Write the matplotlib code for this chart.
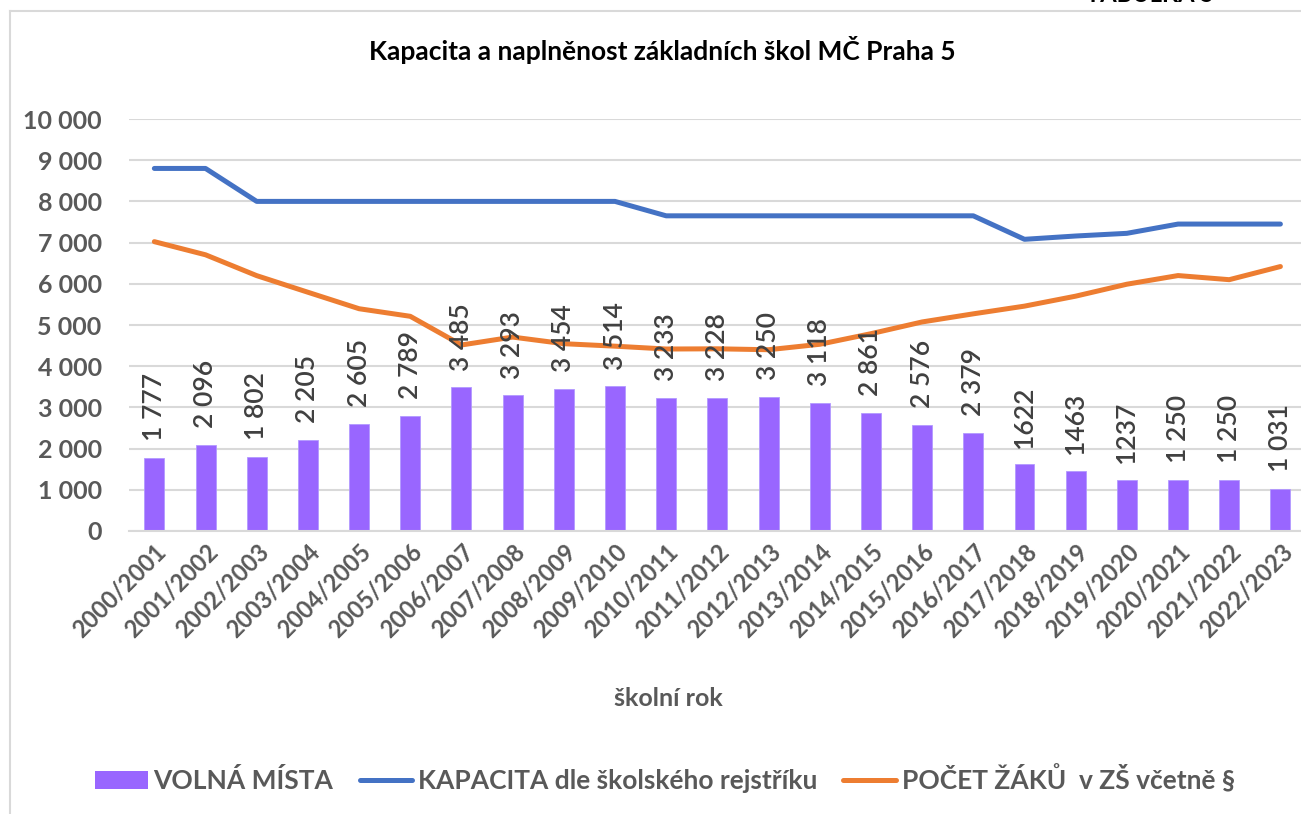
import matplotlib
matplotlib.use("Agg")
import matplotlib.pyplot as plt
from matplotlib.patches import Patch
from matplotlib.lines import Line2D
import numpy as np

plt.rcParams['font.family'] = ['Lato', 'DejaVu Sans']

years = ["2000/2001", "2001/2002", "2002/2003", "2003/2004", "2004/2005", "2005/2006",
         "2006/2007", "2007/2008", "2008/2009", "2009/2010", "2010/2011", "2011/2012",
         "2012/2013", "2013/2014", "2014/2015", "2015/2016", "2016/2017", "2017/2018",
         "2018/2019", "2019/2020", "2020/2021", "2021/2022", "2022/2023"]
volna_mista = [1777, 2096, 1802, 2205, 2605, 2789, 3485, 3293, 3454, 3514, 3233, 3228,
               3250, 3118, 2861, 2576, 2379, 1622, 1463, 1237, 1250, 1250, 1031]
volna_labels = ["1 777", "2 096", "1 802", "2 205", "2 605", "2 789", "3 485", "3 293",
                "3 454", "3 514", "3 233", "3 228", "3 250", "3 118", "2 861", "2 576",
                "2 379", "1622", "1463", "1237", "1 250", "1 250", "1 031"]
kapacita = [8800, 8800, 8000, 8000, 8000, 8000, 8000, 8000, 8000, 8000, 7650, 7650,
            7650, 7650, 7650, 7650, 7650, 7080, 7160, 7225, 7450, 7450, 7450]
pocet_zaku = [7023, 6704, 6198, 5795, 5395, 5211, 4515, 4707, 4546, 4486, 4417, 4422,
              4400, 4532, 4789, 5074, 5271, 5458, 5700, 5990, 6200, 6100, 6419]
yticks = [0, 1000, 2000, 3000, 4000, 5000, 6000, 7000, 8000, 9000, 10000]
ytick_labels = ["0", "1 000", "2 000", "3 000", "4 000", "5 000", "6 000", "7 000",
                "8 000", "9 000", "10 000"]

W, H = 1301, 814
fig = plt.figure(figsize=(W / 100, H / 100), dpi=100)

purple = '#9966FF'
blue = '#4472C4'
orange = '#ED7D31'
grey_txt = '#595959'
grid_c = '#D9D9D9'

# axes: x from 128.75 to 1306 px, y from 119 to 531 px
left, right, top, bottom = 128.75, 1306, 119, 531
ax = fig.add_axes([left / W, 1 - bottom / H, (right - left) / W, (bottom - top) / H])

x = np.arange(len(years))
ax.bar(x, volna_mista, width=0.39, color=purple, edgecolor='#B399FF', linewidth=0.6, zorder=2)
ax.plot(x, kapacita, color=blue, lw=3.6, solid_capstyle='round', solid_joinstyle='round', zorder=3)
ax.plot(x, pocet_zaku, color=orange, lw=3.6, solid_capstyle='round', solid_joinstyle='round', zorder=3)

for xi, v, lab in zip(x, volna_mista, volna_labels):
    ax.annotate(lab, (xi, v), xytext=(0, 12), textcoords='offset points',
                rotation=90, ha='center', va='bottom', fontsize=19,
                fontweight='semibold', color='#404040', zorder=4)

ax.set_xlim(-0.5, len(years) - 0.5)
ax.set_ylim(0, 10000)
ax.set_yticks(yticks)
ax.set_yticklabels(ytick_labels, fontsize=18, fontweight='bold', color=grey_txt)
ax.set_xticks(x)
ax.set_xticklabels(years, rotation=45, ha='right', rotation_mode='anchor',
                   fontsize=17, fontweight='bold', color=grey_txt)
ax.tick_params(axis='both', length=0)
ax.tick_params(axis='y', pad=19.5)
ax.tick_params(axis='x', pad=6)
ax.grid(axis='y', color=grid_c, lw=1.5, zorder=0)
ax.set_axisbelow(True)
for s in ['top', 'right', 'left']:
    ax.spines[s].set_visible(False)
ax.spines['bottom'].set_color(grid_c)
ax.spines['bottom'].set_linewidth(1.5)

# title and axis title
fig.text(662 / W, 1 - 50 / H, "Kapacita a naplněnost základních škol MČ Praha 5",
         ha='center', va='center', fontsize=19, fontweight='bold', color='black')
fig.text(668 / W, 1 - 698 / H, "školní rok", ha='center', va='center',
         fontsize=18, fontweight='bold', color=grey_txt)
fig.text(1086 / W, 1 - (-5) / H, "TABULKA 5", ha='left', va='center',
         fontsize=17, fontweight='bold', color='black')

# frame lines
fig.add_artist(Line2D([9.5 / W, 1.0], [1 - 11 / H, 1 - 11 / H], color=grid_c, lw=1.5))
fig.add_artist(Line2D([9.5 / W, 9.5 / W], [1 - 11 / H, 0], color=grid_c, lw=1.5))

handles = [Patch(facecolor=purple, edgecolor='none'),
           Line2D([0], [0], color=blue, lw=3.6, solid_capstyle='round'),
           Line2D([0], [0], color=orange, lw=3.6, solid_capstyle='round')]
labels = ["VOLNÁ MÍSTA", "KAPACITA dle školského rejstříku", "POČET ŽÁKŮ  v ZŠ včetně §"]
leg = fig.legend(handles, labels, loc='center', bbox_to_anchor=(665 / W, 1 - 779 / H),
                 ncol=3, frameon=False, handlelength=2.0, handleheight=0.65,
                 handletextpad=0.2, columnspacing=1.0,
                 prop={'size': 19, 'weight': 'bold'})
for t in leg.get_texts():
    t.set_color(grey_txt)

fig.savefig("out.png", dpi=100)
